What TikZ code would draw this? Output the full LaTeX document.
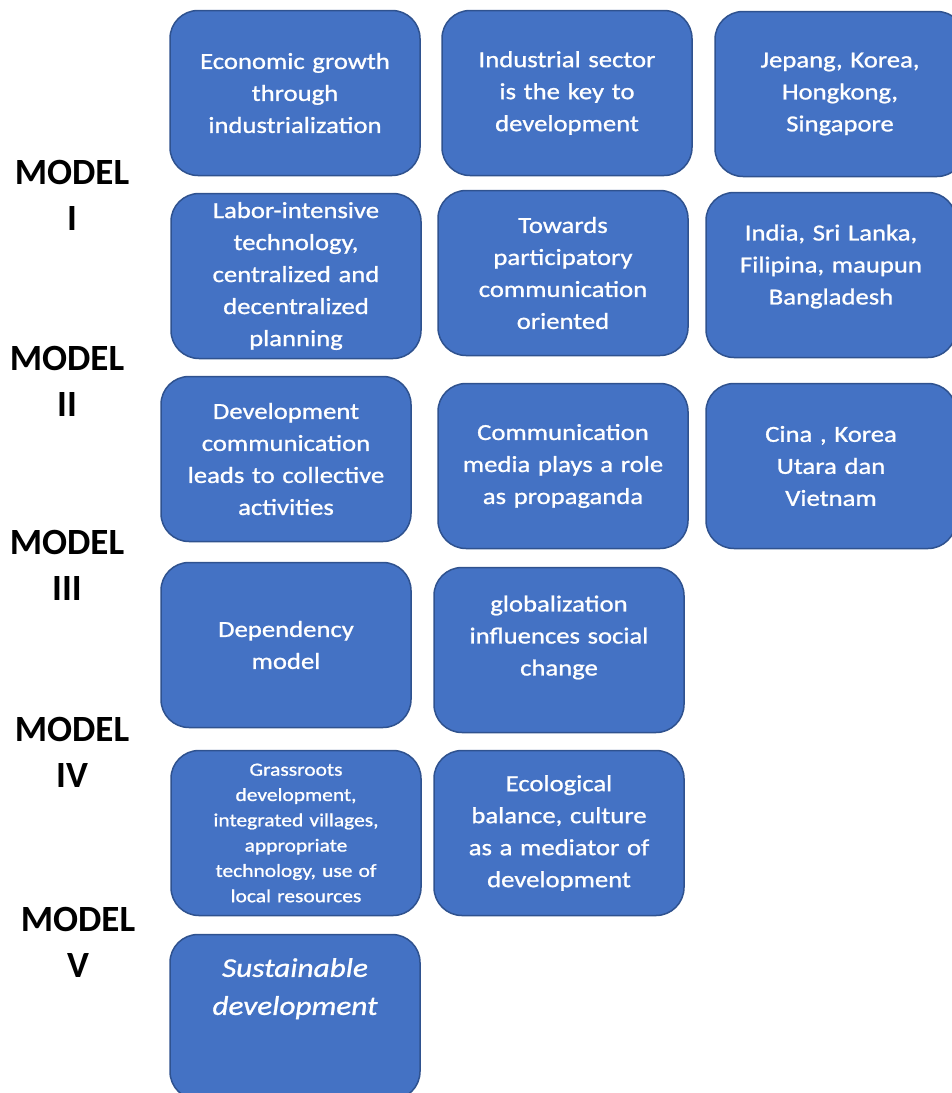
\documentclass[tikz,border=0pt]{standalone}
\usepackage{fontspec}
\setmainfont{Carlito}
\newfontfamily\boxfont[FakeStretch=1.16, FakeBold=1]{Carlito}
\definecolor{boxblue}{HTML}{4472C4}
\definecolor{boxedge}{HTML}{2F528F}
\begin{document}
\begin{tikzpicture}[x=1pt, y=-1pt,
    modelbox/.style={draw=boxedge, line width=1.5pt, fill=boxblue, rounded corners=28pt,
      minimum width=250pt, minimum height=165pt, text width=240pt, inner sep=0pt,
      align=center, text=white, font=\boxfont\fontsize{23}{32}\selectfont},
    smalltext/.style={font=\boxfont\fontsize{18.5}{25.3}\selectfont},
    modellabel/.style={align=center, font=\fontsize{37}{46}\selectfont\bfseries}]
      \useasboundingbox (0,0) rectangle (952,1093);
      \clip (0,0) rectangle (952,1093);
      %
      \node[modelbox] (growth) at (295,93) {Economic growth\\through\\industrialization};
      \node[modelbox] (industry) at (567,93) {Industrial sector\\is the key to\\development};
      \node[modelbox] (asia) at (840,94) {Jepang, Korea,\\Hongkong,\\Singapore};
      %
      \node[modelbox] (labor) at (296,276) {Labor-intensive\\technology,\\centralized and\\decentralized\\planning};
      \node[modelbox] (particip) at (563,273) {Towards\\participatory\\communication\\oriented};
      \node[modelbox] (southasia) at (831,275) {India, Sri Lanka,\\Filipina, maupun\\Bangladesh\\[-11pt]\mbox{}};
      %
      \node[modelbox] (collective) at (286,459) {Development\\communication\\leads to collective\\activities};
      \node[modelbox] (propaganda) at (563,466) {Communication\\media plays a role\\as propaganda};
      \node[modelbox] (socialist) at (831,466) {Cina , Korea\\Utara dan\\Vietnam};
      %
      \node[modelbox] (dependency) at (286,645) {Dependency\\model};
      \node[modelbox] (global) at (559,650) {globalization\\influences social\\change\\[-3pt]\mbox{}};
      %
      \node[modelbox, smalltext] (grassroots) at (296,833) {Grassroots\\development,\\integrated villages,\\appropriate\\technology, use of\\local resources};
      \node[modelbox] (ecology) at (559,833) {Ecological\\balance, culture\\as a mediator of\\development};
      %
      \node[modelbox, font=\boxfont\fontsize{27}{38}\selectfont\itshape] (sustain) at (295,1017) {Sustainable\\development\\[23pt]\mbox{}};
      %
      \node[modellabel] (m1) at (72,195) {MODEL\\I};
      \node[modellabel] (m2) at (67,381) {MODEL\\II};
      \node[modellabel] (m3) at (67,565) {MODEL\\III};
      \node[modellabel] (m4) at (72,752) {MODEL\\IV};
      \node[modellabel] (m5) at (78,942) {MODEL\\V};
      %
\end{tikzpicture}
\end{document}
